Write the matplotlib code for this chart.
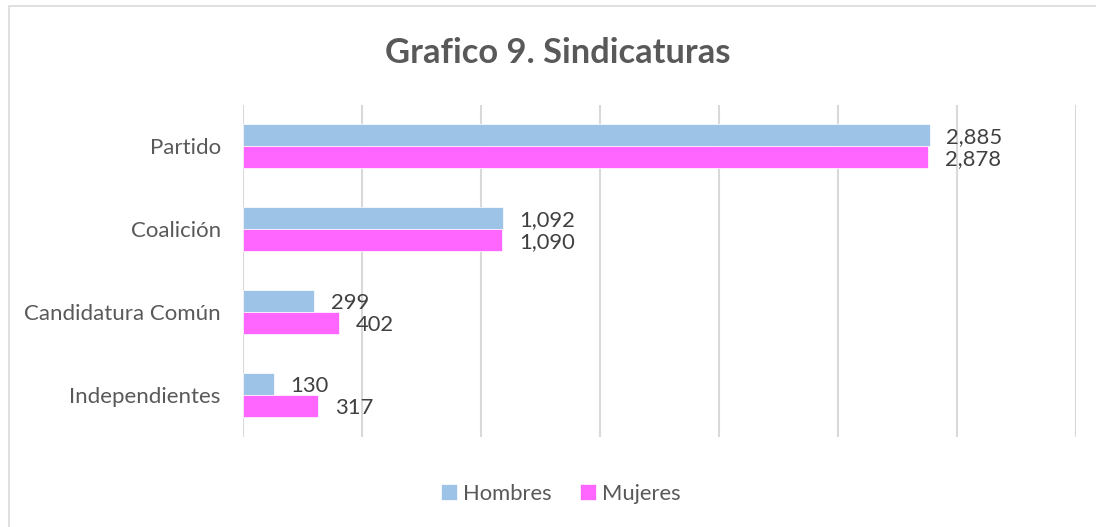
import matplotlib.pyplot as plt
import numpy as np
from matplotlib.patches import Rectangle

categorias = ["Partido", "Coalición", "Candidatura Común", "Independientes"]
hombres = [2885, 1092, 299, 130]
mujeres = [2878, 1090, 402, 317]
series = ["Hombres", "Mujeres"]
colores = ["#9dc3e6", "#ff66ff"]

plt.rcParams['font.family'] = ['Lato', 'DejaVu Sans']

fig = plt.figure(figsize=(10.96, 5.27), dpi=100)
ax = fig.add_axes([0.2217, 0.1708, 0.7601, 0.630])

y = np.arange(len(categorias))
h = 0.265
b1 = ax.barh(y - h / 2, hombres, height=h, color=colores[0], label=series[0], edgecolor='white', linewidth=0.5)
b2 = ax.barh(y + h / 2, mujeres, height=h, color=colores[1], label=series[1], edgecolor='white', linewidth=0.5)

for bars, vals in ((b1, hombres), (b2, mujeres)):
    for bar, v in zip(bars, vals):
        ax.annotate(f"{v:,}", (bar.get_width(), bar.get_y() + bar.get_height() / 2),
                    xytext=(12, -1), textcoords='offset points', va='center', ha='left',
                    fontsize=15.8, color='#404040')

ax.set_xlim(0, 3500)
ax.set_ylim(len(categorias) - 0.5, -0.5)
ax.set_xticks(np.arange(0, 3501, 500))
ax.set_xticklabels([])
ax.set_yticks(y)
ax.set_yticklabels(categorias, fontsize=16, color='#595959')
ax.tick_params(axis='both', length=0)
ax.tick_params(axis='y', pad=16)
ax.grid(axis='x', color='#d9d9d9', linewidth=1.5)
ax.set_axisbelow(True)
for s in ax.spines.values():
    s.set_visible(False)

fig.text(0.509, 0.90, "Grafico 9. Sindicaturas", ha='center', va='center',
         fontsize=24.8, fontweight='bold', color='#595959')

fig.legend(handles=[b1, b2], labels=series, loc='center', bbox_to_anchor=(0.512, 0.063),
           ncol=2, frameon=False, fontsize=15.8, labelcolor='#595959',
           handlelength=0.7, handleheight=0.7, handletextpad=0.3, columnspacing=1.3)

fig.patches.append(Rectangle((9 / 1096, -0.01), 1.2, 1 - 6 / 527 + 0.01, transform=fig.transFigure,
                             fill=False, edgecolor='#d9d9d9', linewidth=1.2))

fig.savefig("out.png", dpi=100)
